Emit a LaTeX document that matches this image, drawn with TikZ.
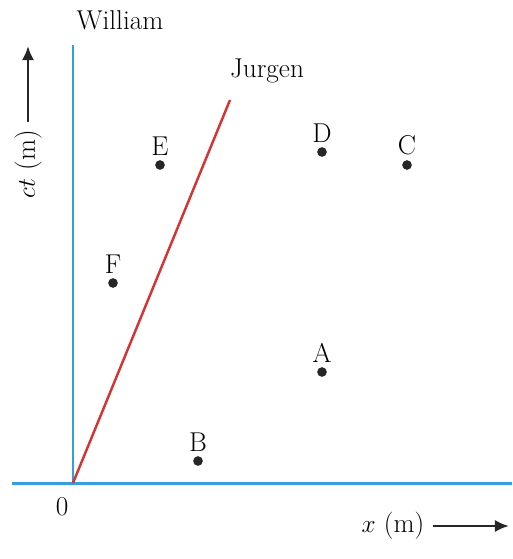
\documentclass[tikz,border=0pt]{standalone}
\usetikzlibrary{arrows.meta}
\definecolor{worldblue}{RGB}{52,160,218}
\definecolor{worldred}{RGB}{212,52,52}
\tikzset{
  event/.style={circle, fill=black!85, inner sep=0pt, minimum size=5.5pt},
  lbl/.style={font=\fontsize{15.5}{18}\selectfont},
  evlbl/.style={lbl, inner sep=1pt, label distance=1.5pt},
  axisarrow/.style={-{Latex[length=8pt,width=7pt]}, line width=1.6pt, black!85}
}
\begin{document}
\begin{tikzpicture}[x=0.02cm, y=-0.02cm]
  \useasboundingbox (0,0) rectangle (512,559);
  % world lines and axes
  \coordinate (O) at (73,483);
  \coordinate (Wtop) at (73,45);
  \coordinate (Xl) at (12,483);
  \coordinate (Xr) at (512,483);
  \coordinate (Jtop) at (230,100);
  \draw[worldblue, line width=1.7pt] (Xl) -- (Xr);
  \draw[worldblue, line width=1.7pt] (O) -- (Wtop);
  \draw[worldred, line width=1.4pt] (O) -- (Jtop);
  \node[lbl] (william) at (120,20) {William};
  \node[lbl] (jurgen) at (267,71) {Jurgen};
  \node[lbl] (zero) at (62,507) {0};
  % events
  \node[event, label={[evlbl]above:E}] (E) at (160,165) {};
  \node[event, label={[evlbl]above:D}] (D) at (322,152) {};
  \node[event, label={[evlbl]above:C}] (C) at (407,165) {};
  \node[event, label={[evlbl]above:F}] (F) at (113,283) {};
  \node[event, label={[evlbl]above:A}] (A) at (322,372) {};
  \node[event, label={[evlbl]above:B}] (B) at (198,461) {};
  % axis labels
  \node[lbl, rotate=90] (ctlab) at (28,164) {$ct$ (m)};
  \coordinate (cttip) at (28,46);
  \draw[axisarrow] (ctlab.east) ++(0,-2) -- (cttip);
  \node[lbl] (xlab) at (393,526) {$x$ (m)};
  \coordinate (xtip) at (509,526);
  \draw[axisarrow] (xlab.east) ++(2,0) -- (xtip);
\end{tikzpicture}
\end{document}
